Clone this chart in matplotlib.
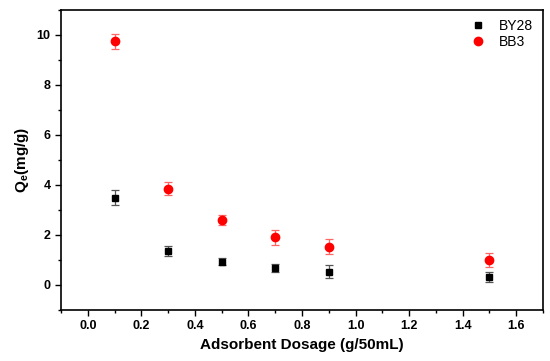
import matplotlib
matplotlib.use("Agg")
import matplotlib.pyplot as plt
from matplotlib.ticker import MultipleLocator
from matplotlib.lines import Line2D

plt.rcParams['font.family'] = ['Liberation Sans', 'DejaVu Sans']
plt.rcParams['font.weight'] = 'bold'

dosage = [0.1, 0.3, 0.5, 0.7, 0.9, 1.5]
by28 = [3.48, 1.35, 0.93, 0.68, 0.53, 0.30]
by28_err = [0.30, 0.20, 0.15, 0.15, 0.25, 0.20]
bb3 = [9.73, 3.85, 2.60, 1.90, 1.52, 1.00]
bb3_err = [0.30, 0.25, 0.20, 0.30, 0.30, 0.28]

fig = plt.figure(figsize=(5.5, 3.61), dpi=100)
ax = fig.add_axes([61/550, 1 - 310/361, (543-61)/550, (310-9.5)/361])

ax.errorbar(dosage, by28, yerr=by28_err, fmt='s', color='black', ms=5,
            ecolor='#555555', elinewidth=0.9, capsize=3, capthick=0.9)
ax.errorbar(dosage, bb3, yerr=bb3_err, fmt='o', color='red', ms=6,
            ecolor='#ff6666', elinewidth=0.9, capsize=3, capthick=0.9)

ax.set_xlim(-0.1, 1.7)
ax.set_ylim(-1, 11)
ax.xaxis.set_major_locator(MultipleLocator(0.2))
ax.xaxis.set_minor_locator(MultipleLocator(0.1))
ax.yaxis.set_major_locator(MultipleLocator(2))
ax.yaxis.set_minor_locator(MultipleLocator(1))
ax.set_xticks([0.0, 0.2, 0.4, 0.6, 0.8, 1.0, 1.2, 1.4, 1.6])
ax.tick_params(which='major', direction='out', length=4, width=1, labelsize=9)
ax.tick_params(which='minor', direction='out', length=2.5, width=1)
for s in ax.spines.values():
    s.set_linewidth(1.2)

ax.set_xlabel('Adsorbent Dosage (g/50mL)', fontsize=11, fontweight='bold')
ax.set_ylabel('Q$_\\mathregular{e}$(mg/g)', fontsize=11, fontweight='bold')

handles = [Line2D([], [], ls='none', marker='s', color='black', ms=5),
           Line2D([], [], ls='none', marker='o', color='red', ms=6)]
ax.legend(handles, ['BY28', 'BB3'], loc='upper right', frameon=False,
          prop={'size': 10, 'weight': 'normal'}, handletextpad=0.8,
          borderaxespad=0.3, labelspacing=0.15, handlelength=1.5)

fig.savefig('out.png', dpi=100)
